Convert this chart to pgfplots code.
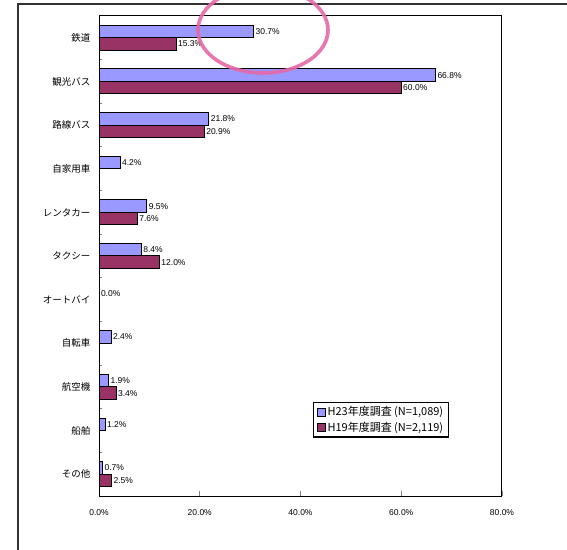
\documentclass[border=0pt]{standalone}
\usepackage{fontspec}
\setmainfont{Liberation Sans}
\newfontfamily\cjk{Noto Sans CJK JP}
\usepackage{pgfplots}
\pgfplotsset{compat=1.18}
\definecolor{h23}{RGB}{153,153,255}
\definecolor{h19}{RGB}{153,51,102}
\definecolor{ring}{RGB}{230,105,168}
\begin{document}
\begin{tikzpicture}[x=1pt,y=1pt]
\useasboundingbox (0,0) rectangle (567,549);
\clip (0,0) rectangle (567,549);
\fill[white] (0,0) rectangle (567,549);
\draw[line width=1.3pt, black!80] (18,-5) -- (18,545) -- (580,545);
\begin{axis}[
  at={(99pt,53pt)}, anchor=south west,
  scale only axis, width=403pt, height=480pt,
  xbar, bar width=12.5pt,
  xmin=0, xmax=80, ymin=-0.5, ymax=10.5,
  axis line style={line width=1pt},
  xtick={0,20,40,60,80},
  xtick pos=bottom, ytick pos=left,
  tick align=inside,
  major tick length=5pt, minor tick length=3pt,
  major tick style={line width=0.9pt},
  minor tick style={line width=0.9pt},
  major y tick style={draw=none},
  xticklabel={\pgfmathprintnumber[fixed,fixed zerofill,precision=1]{\tick}\%},
  /pgf/number format/assume math mode=true,
  xticklabel style={font=\fontsize{8.5}{9}\selectfont, yshift=-10pt},
  ytick={0,...,10},
  minor ytick={0.5,1.5,...,9.5},
  yticklabels={その他,船舶,航空機,自転車,オートバイ,タクシー,レンタカー,自家用車,路線バス,観光バス,鉄道},
  yticklabel style={font=\fontsize{9.5}{11}\cjk, xshift=-5pt},
  nodes near coords={\pgfmathprintnumber[fixed,fixed zerofill,precision=1]{\pgfplotspointmeta}\%},
  every node near coord/.append style={font=\fontsize{8.5}{9}\selectfont, inner sep=1.5pt, black},
  legend style={at={(0.531,0.196)}, anchor=north west, draw=black, line width=1.3pt,
    font=\fontsize{11}{13}\cjk, inner xsep=3pt, inner ysep=2pt, row sep=1pt},
  legend cell align=left,
  area legend,
  legend image code/.code={\draw[#1, draw=black, line width=0.9pt] (0pt,-4pt) rectangle (8pt,4pt);},
]
\addplot[fill=h23, draw=black, line width=1pt, bar shift=6.25pt] coordinates {
  (30.7,10) (66.8,9) (21.8,8) (4.2,7) (9.5,6) (8.4,5) (0.0,4) (2.4,3) (1.9,2) (1.2,1) (0.7,0)};
\addplot[fill=h19, draw=black, line width=1pt, bar shift=-6.25pt] coordinates {
  (15.3,10) (60.0,9) (20.9,8) (7.6,6) (12.0,5) (3.4,2) (2.5,0)};
\legend{{H23年度調査 (N=1,089)}, {H19年度調査 (N=2,119)}}
\end{axis}
\draw[ring, line width=3.6pt, opacity=0.9] (263,519) ellipse [x radius=65, y radius=43];
\end{tikzpicture}
\end{document}
